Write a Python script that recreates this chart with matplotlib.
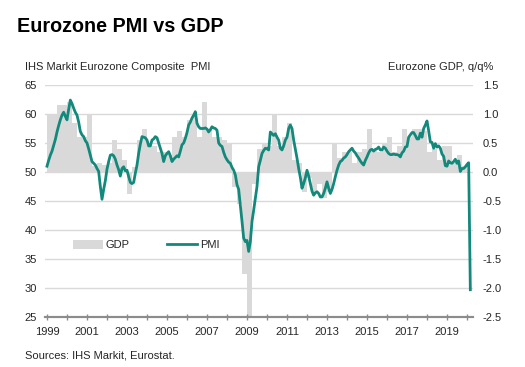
import numpy as np
import matplotlib
matplotlib.use('Agg')
import matplotlib.pyplot as plt
from matplotlib.patches import Patch
from matplotlib.lines import Line2D

plt.rcParams['font.family'] = ['Liberation Sans', 'DejaVu Sans']

# monthly composite PMI, Jan 1999 - Mar 2020
pmi = [
    51.0, 52.0, 52.9, 53.6, 54.6, 55.6, 56.9, 58.0, 59.0, 59.8, 60.3, 59.6,  # 1999
    59.0, 60.8, 62.4, 61.8, 61.0, 60.3, 59.8, 58.6, 57.0, 56.4, 56.1, 55.4,  # 2000
    55.0, 54.0, 52.9, 51.8, 51.5, 51.2, 50.6, 50.1, 47.5, 45.3, 47.0, 48.5,  # 2001
    50.5, 51.8, 52.9, 53.0, 52.8, 52.2, 51.2, 50.4, 49.3, 50.6, 50.9, 50.2,  # 2002
    50.3, 49.2, 48.2, 48.0, 48.2, 49.8, 51.2, 53.2, 54.8, 56.1, 56.0, 55.9,  # 2003
    55.5, 54.5, 54.5, 55.5, 55.7, 56.1, 55.9, 55.0, 54.1, 53.2, 51.8, 52.8,  # 2004
    53.2, 53.5, 52.8, 51.8, 52.2, 52.5, 52.8, 52.6, 53.6, 54.7, 55.0, 55.8,  # 2005
    56.8, 58.1, 58.6, 59.3, 59.8, 60.4, 58.4, 57.8, 57.5, 57.5, 57.5, 57.6,  # 2006
    57.4, 56.9, 57.3, 57.8, 57.6, 57.5, 57.2, 55.0, 54.6, 54.4, 53.4, 52.6,  # 2007
    52.1, 51.7, 51.5, 50.8, 50.3, 49.5, 47.8, 47.0, 44.3, 41.5, 38.6, 38.0,  # 2008
    38.2, 36.3, 38.0, 41.5, 43.4, 45.5, 47.5, 50.9, 52.0, 53.2, 53.7, 54.1,  # 2009
    54.0, 53.8, 56.9, 56.6, 56.3, 56.6, 56.0, 55.5, 54.1, 53.8, 54.5, 55.5,  # 2010
    56.0, 57.5, 58.1, 57.5, 55.5, 54.0, 52.4, 50.6, 49.1, 47.2, 48.0, 49.0,  # 2011
    50.3, 49.3, 48.0, 46.7, 46.0, 46.4, 46.6, 46.3, 45.7, 45.7, 46.3, 47.2,  # 2012
    48.3, 47.2, 46.3, 47.0, 48.0, 49.2, 50.3, 51.2, 51.8, 52.0, 52.4, 52.6,  # 2013
    53.0, 53.5, 53.8, 54.1, 53.6, 53.3, 52.8, 52.4, 51.9, 51.5, 51.2, 52.0,  # 2014
    52.6, 53.3, 53.8, 53.9, 53.6, 53.9, 54.0, 54.3, 53.8, 53.8, 54.3, 54.1,  # 2015
    53.6, 53.2, 53.0, 53.0, 53.1, 53.0, 53.0, 52.9, 52.6, 53.3, 53.6, 54.3,  # 2016
    54.4, 56.0, 56.4, 56.8, 56.8, 56.3, 55.7, 55.7, 56.7, 56.0, 57.5, 58.1,  # 2017
    58.8, 57.1, 55.2, 55.1, 54.1, 54.9, 54.3, 54.5, 54.1, 53.1, 52.7, 51.1,  # 2018
    51.0, 51.9, 51.6, 51.5, 51.8, 52.2, 51.5, 51.9, 50.1, 50.6, 50.6, 50.9,  # 2019
    51.3, 51.6, 29.7,                                                        # 2020
]

# quarterly GDP q/q %, 1999 Q1 - 2019 Q4
gdp = [
    1.0, 1.0, 1.15, 1.15,     # 1999
    1.2, 0.85, 0.6, 0.6,      # 2000
    1.0, 0.1, 0.15, 0.12,     # 2001
    0.15, 0.55, 0.4, 0.2,     # 2002
    -0.38, 0.08, 0.55, 0.75,  # 2003
    0.45, 0.45, 0.35, 0.35,   # 2004
    0.3, 0.6, 0.7, 0.6,       # 2005
    0.9, 1.0, 0.6, 1.2,       # 2006
    0.75, 0.6, 0.6, 0.55,     # 2007
    0.5, -0.25, -0.55, -1.75, # 2008
    -2.9, -0.2, 0.4, 0.5,     # 2009
    0.45, 1.0, 0.45, 0.6,     # 2010
    0.85, 0.2, 0.15, -0.35,   # 2011
    -0.1, -0.35, -0.2, -0.45, # 2012
    -0.35, 0.5, 0.25, 0.35,   # 2013
    0.35, 0.15, 0.35, 0.4,    # 2014
    0.75, 0.4, 0.35, 0.5,     # 2015
    0.6, 0.35, 0.45, 0.75,    # 2016
    0.6, 0.75, 0.75, 0.7,     # 2017
    0.35, 0.4, 0.2, 0.45,     # 2018
    0.45, 0.15, 0.3, 0.1,     # 2019
]

year_ticks = list(range(1999, 2021))
year_labels = [str(y) if y % 2 == 1 else '' for y in year_ticks]

pmi_x = 1999 + np.arange(len(pmi)) / 12
gdp_x = 1999 + np.arange(len(gdp)) / 4 + 0.125

teal = '#13897c'
bar_grey = '#d9d9d9'
txt = '#262626'

fig = plt.figure(figsize=(5.25, 3.67), dpi=100, facecolor='white')
ax = fig.add_axes([45 / 525, 1 - 317 / 367, 428 / 525, 232 / 367])
ax2 = ax.twinx()

# GDP bars on the right axis, behind the PMI line
ax2.bar(gdp_x, gdp, width=0.25, color=bar_grey, linewidth=0)
ax2.set_ylim(-2.5, 1.5)
ax2.set_yticks(np.arange(-2.5, 1.51, 0.5))
ax2.set_yticklabels(['%.1f' % v for v in np.arange(-2.5, 1.51, 0.5)])
ax2.grid(axis='y', color='#d9d9d9', linewidth=1)
ax2.set_axisbelow(True)

ax.set_zorder(ax2.get_zorder() + 1)
ax.patch.set_visible(False)
ax.plot(pmi_x, pmi, color=teal, linewidth=2)
ax.set_ylim(25, 65)
ax.set_yticks(range(25, 66, 5))
ax.set_xlim(1998.9, 2020.3)
ax.set_xticks(year_ticks)
ax.set_xticklabels(year_labels)

for a in (ax, ax2):
    for s in ('top', 'left', 'right'):
        a.spines[s].set_visible(False)
    a.spines['bottom'].set_color('#8c8c8c')
    a.spines['bottom'].set_linewidth(1.5)
    a.tick_params(axis='y', length=0, labelsize=8, colors=txt)
ax.tick_params(axis='y', pad=6)
ax2.tick_params(axis='y', pad=7)
ax.tick_params(axis='x', direction='inout', length=4, width=1, color='#8c8c8c',
               labelsize=8, labelcolor=txt, pad=5)

handles = [Patch(facecolor=bar_grey, edgecolor='none', label='GDP'),
           Line2D([], [], color=teal, linewidth=2, label='PMI')]
ax.legend(handles=handles, ncol=2, frameon=False, fontsize=8,
          loc='center left', bbox_to_anchor=(0.043, 0.31),
          handlelength=2.7, handleheight=0.8, handletextpad=0.2,
          columnspacing=3.4, labelcolor=txt)

fig.text(17 / 525, 1 - 32 / 367, 'Eurozone PMI vs GDP', fontsize=14.2,
         fontweight='bold', color='black', va='baseline')
fig.text(25 / 525, 1 - 70 / 367, 'IHS Markit Eurozone Composite  PMI',
         fontsize=8, color=txt, va='baseline')
fig.text(493 / 525, 1 - 70 / 367, 'Eurozone GDP, q/q%', fontsize=8,
         color=txt, va='baseline', ha='right')
fig.text(25 / 525, 1 - 358 / 367, 'Sources: IHS Markit, Eurostat.',
         fontsize=8, color=txt, va='baseline')

plt.savefig('out.png', dpi=100, facecolor='white')
